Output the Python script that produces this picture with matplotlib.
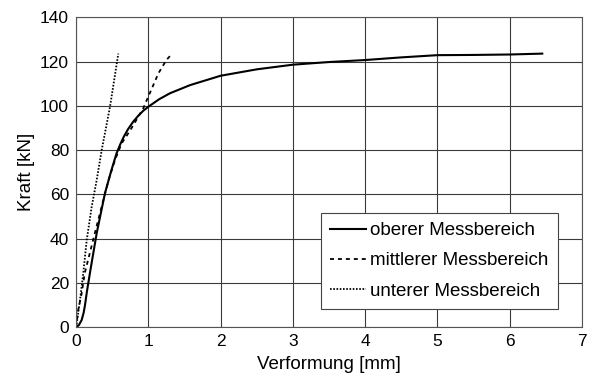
import matplotlib.pyplot as plt

plt.rcParams['font.family'] = ['Liberation Sans', 'DejaVu Sans']

# oberer Messbereich
oben_x = [0, 0.04, 0.078, 0.105, 0.124, 0.15, 0.2, 0.286, 0.4, 0.49, 0.56, 0.61, 0.66, 0.72, 0.79, 0.86, 0.93,
          1.0, 1.15, 1.3, 1.58, 2.0, 2.5, 3.0, 3.5, 4.0, 4.5, 5.0, 5.5, 6.0, 6.45]
oben_y = [0, 1, 3.3, 6.5, 10, 16, 26, 42.5, 60.5, 71, 78.5, 82.5, 86, 89.5, 92.8, 95.5, 97.8,
          99.6, 103, 105.7, 109.4, 113.6, 116.5, 118.6, 119.8, 120.7, 121.9, 122.9, 123.0, 123.2, 123.6]

# mittlerer Messbereich
mitte_x = [0, 0.03, 0.078, 0.12, 0.19, 0.26, 0.355, 0.45, 0.54, 0.63, 0.75, 0.93, 1.02, 1.14, 1.25, 1.33]
mitte_y = [0, 7.8, 15.3, 24.4, 33.4, 42.5, 54.5, 66.5, 75.6, 83, 89, 98.9, 105.7, 114.7, 120.7, 123.6]

# unterer Messbereich
unten_x = [0, 0.01, 0.055, 0.10, 0.148, 0.217, 0.286, 0.355, 0.47, 0.585]
unten_y = [0, 1.8, 12.3, 24.4, 39.4, 54.5, 66.5, 80, 99.6, 123.6]

fig = plt.figure(figsize=(5.93, 3.76), dpi=100)
ax = fig.add_axes([0.1282, 0.1295, 0.8533, 0.8245])

ax.plot(oben_x, oben_y, color='black', lw=1.5, ls='-', label='oberer Messbereich')
ax.plot(mitte_x, mitte_y, color='black', lw=1.3, ls=(0, (2.2, 2.2)), label='mittlerer Messbereich')
ax.plot(unten_x, unten_y, color='black', lw=1.3, ls=(0, (0.9, 0.9)), label='unterer Messbereich')

ax.set_xlim(0, 7)
ax.set_ylim(0, 140)
ax.set_xticks(range(0, 8))
ax.set_yticks(range(0, 141, 20))
ax.grid(True, color='#3a3a3a', lw=0.8)
ax.set_axisbelow(True)
ax.tick_params(length=0, labelsize=12.5)
ax.tick_params(axis='y', pad=5)
ax.tick_params(axis='x', pad=5)
for s in ax.spines.values():
    s.set_color('#555555')
    s.set_linewidth(0.8)

ax.set_xlabel('Verformung [mm]', fontsize=13.5, labelpad=5)
ax.set_ylabel('Kraft [kN]', fontsize=13.5, labelpad=4)

leg = ax.legend(loc='lower right', bbox_to_anchor=(0.9526, 0.059), borderaxespad=0,
                fontsize=13.5, fancybox=False, framealpha=1, edgecolor='#444444',
                handlelength=1.9, handletextpad=0.25, borderpad=0.5, labelspacing=0.7)
leg.get_frame().set_linewidth(0.8)

fig.savefig('out.png', dpi=100)
